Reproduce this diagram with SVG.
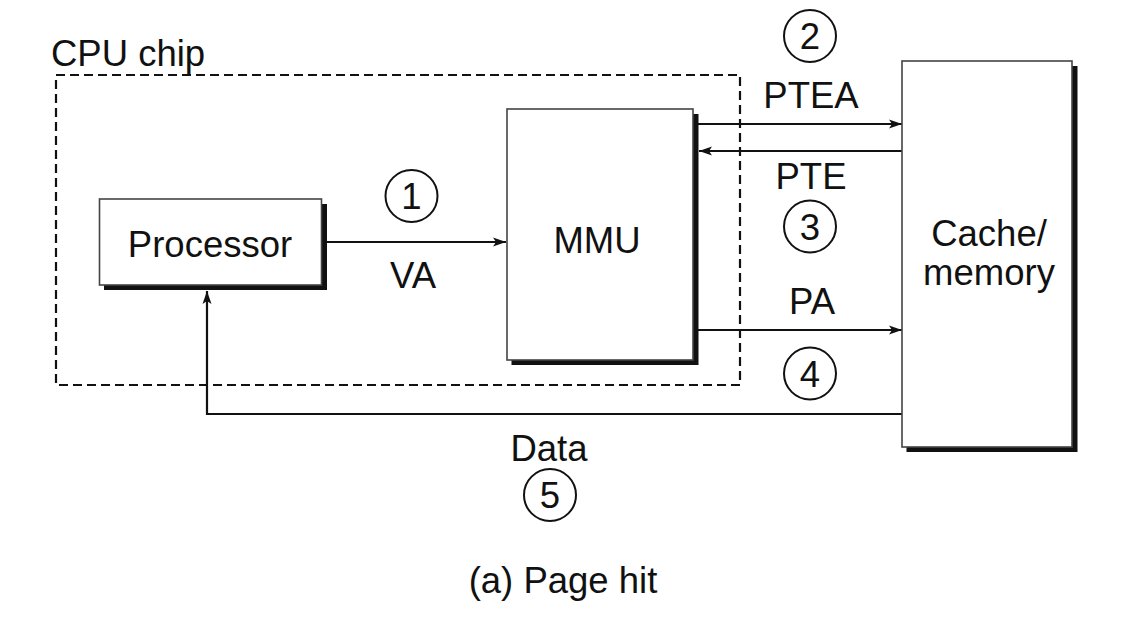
<svg xmlns="http://www.w3.org/2000/svg" width="1138" height="620" viewBox="0 0 1138 620">
<style>
text{font-family:"Liberation Sans",Arial,sans-serif;fill:#111;}
.lbl{font-size:36.5px;text-anchor:middle;}
.box{fill:#fff;stroke:#444;stroke-width:1.6;}
.shadow{fill:#111;}
.conn{fill:none;stroke:#111;stroke-width:2.2;}
.step{fill:#fff;stroke:#111;stroke-width:2;}
.chip{fill:none;stroke:#111;stroke-width:2.2;stroke-dasharray:9,5;}
</style>
<defs>
<marker id="arr" markerUnits="userSpaceOnUse" markerWidth="14" markerHeight="10" refX="13" refY="5" orient="auto">
<path d="M0,0.5 L13,5 L0,9.5 L3,5 z" fill="#111"/>
</marker>
</defs>
<rect width="1138" height="620" fill="#fff"/>
<g id="cpu-chip">
<rect class="chip" x="56" y="75" width="684" height="310"/>
<text x="51" y="66" style="font-size:36.5px">CPU chip</text>
</g>
<g id="connectors">
<line class="conn" x1="327" y1="242" x2="506" y2="242" marker-end="url(#arr)"/>
<line class="conn" x1="698" y1="124" x2="902" y2="124" marker-end="url(#arr)"/>
<line class="conn" x1="902" y1="151" x2="699" y2="151" marker-end="url(#arr)"/>
<line class="conn" x1="698" y1="330" x2="902" y2="330" marker-end="url(#arr)"/>
<polyline class="conn" points="902,414 207,414 207,291" marker-end="url(#arr)"/>
</g>
<g id="processor">
<rect class="shadow" x="104" y="204" width="223" height="86"/>
<rect class="box" x="99.5" y="199" width="222" height="86"/>
<text class="lbl" x="210" y="257">Processor</text>
</g>
<g id="mmu">
<rect class="shadow" x="511.5" y="114" width="187" height="251"/>
<rect class="box" x="507" y="109" width="186" height="251"/>
<text class="lbl" x="597" y="253">MMU</text>
</g>
<g id="cache-memory">
<rect class="shadow" x="906.5" y="66" width="171" height="386"/>
<rect class="box" x="902" y="61" width="170" height="386"/>
<text class="lbl" x="989" y="246">Cache/</text>
<text class="lbl" x="989" y="285">memory</text>
</g>
<g id="labels">
<text class="lbl" x="413" y="288">VA</text>
<text class="lbl" x="811" y="108">PTEA</text>
<text class="lbl" x="811" y="189">PTE</text>
<text class="lbl" x="812" y="314">PA</text>
<text class="lbl" x="549" y="461">Data</text>
<text class="lbl" x="563" y="593">(a) Page hit</text>
</g>
<g id="step1"><circle class="step" cx="411.5" cy="196" r="26"/><text class="lbl" x="411.5" y="209">1</text></g>
<g id="step2"><circle class="step" cx="810" cy="36" r="26"/><text class="lbl" x="810" y="49">2</text></g>
<g id="step3"><circle class="step" cx="810" cy="226.5" r="26"/><text class="lbl" x="810" y="239.5">3</text></g>
<g id="step4"><circle class="step" cx="810" cy="373.5" r="26"/><text class="lbl" x="810" y="386.5">4</text></g>
<g id="step5"><circle class="step" cx="550" cy="495" r="26"/><text class="lbl" x="550" y="508">5</text></g>
</svg>
